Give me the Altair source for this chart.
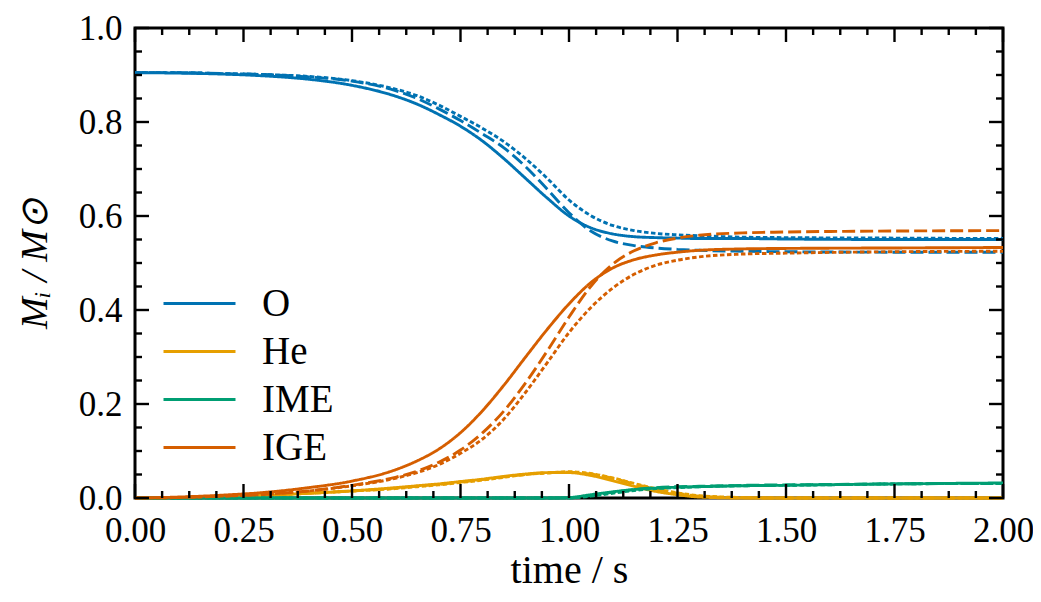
import altair as alt
import pandas as pd

T = [0.0, 0.1, 0.2, 0.3, 0.4, 0.5, 0.6, 0.65, 0.7, 0.75, 0.8, 0.85, 0.9, 0.95,
     1.0, 1.05, 1.1, 1.15, 1.2, 1.25, 1.3, 1.4, 1.5, 1.75, 2.0]

O_solid = [0.905, 0.904, 0.902, 0.898, 0.891, 0.878, 0.855, 0.838, 0.816, 0.791, 0.760, 0.722, 0.680, 0.638,
           0.600, 0.575, 0.562, 0.556, 0.554, 0.553, 0.552, 0.552, 0.551, 0.550, 0.550]
O_dashed = [0.905, 0.905, 0.903, 0.901, 0.896, 0.887, 0.867, 0.850, 0.828, 0.803, 0.775, 0.745, 0.705, 0.657,
            0.607, 0.568, 0.547, 0.537, 0.532, 0.529, 0.527, 0.525, 0.524, 0.523, 0.523]
O_dotted = [0.905, 0.905, 0.903, 0.901, 0.897, 0.888, 0.870, 0.856, 0.836, 0.812, 0.787, 0.758, 0.722, 0.680,
            0.634, 0.601, 0.580, 0.569, 0.563, 0.560, 0.558, 0.555, 0.554, 0.553, 0.552]

He_solid = [0.0, 0.001, 0.003, 0.006, 0.010, 0.015, 0.022, 0.026, 0.030, 0.035, 0.040, 0.046, 0.051, 0.054,
            0.054, 0.048, 0.037, 0.025, 0.014, 0.007, 0.002, 0.0, 0.0, 0.0, 0.0]
He_dashed = [0.0, 0.001, 0.003, 0.006, 0.010, 0.015, 0.021, 0.025, 0.029, 0.034, 0.039, 0.045, 0.050, 0.054,
             0.055, 0.051, 0.042, 0.030, 0.019, 0.010, 0.004, 0.0005, 0.0, 0.0, 0.0]
He_dotted = [0.0, 0.001, 0.003, 0.006, 0.010, 0.015, 0.020, 0.024, 0.028, 0.033, 0.038, 0.044, 0.050, 0.053,
             0.056, 0.052, 0.043, 0.031, 0.020, 0.011, 0.005, 0.001, 0.0, 0.0, 0.0]

IME_solid = [0.0, 0.0, 0.0, 0.0, 0.0, 0.0, 0.0, 0.0, 0.0, 0.0, 0.0, 0.0, 0.0, 0.0,
             0.001, 0.007, 0.013, 0.018, 0.021, 0.023, 0.024, 0.026, 0.027, 0.030, 0.032]
IME_dashed = [0.0, 0.0, 0.0, 0.0, 0.0, 0.0, 0.0, 0.0, 0.0, 0.0, 0.0, 0.0, 0.0, 0.0,
              0.0, 0.005, 0.012, 0.018, 0.022, 0.024, 0.025, 0.027, 0.028, 0.030, 0.031]
IME_dotted = [0.0, 0.0, 0.0, 0.0, 0.0, 0.0, 0.0, 0.0, 0.0, 0.0, 0.0, 0.0, 0.0, 0.0,
              0.0, 0.004, 0.010, 0.016, 0.020, 0.022, 0.024, 0.026, 0.027, 0.030, 0.031]

IGE_solid = [0.0, 0.002, 0.006, 0.012, 0.022, 0.036, 0.060, 0.079, 0.104, 0.139, 0.185, 0.240, 0.300, 0.359,
             0.413, 0.458, 0.489, 0.507, 0.517, 0.523, 0.527, 0.530, 0.531, 0.532, 0.533]
IGE_dashed = [0.0, 0.001, 0.004, 0.008, 0.015, 0.027, 0.044, 0.057, 0.076, 0.102, 0.138, 0.185, 0.245, 0.313,
              0.385, 0.450, 0.497, 0.526, 0.543, 0.553, 0.559, 0.564, 0.566, 0.568, 0.569]
IGE_dotted = [0.0, 0.001, 0.004, 0.008, 0.015, 0.026, 0.042, 0.054, 0.071, 0.095, 0.125, 0.168, 0.225, 0.288,
              0.352, 0.405, 0.446, 0.476, 0.495, 0.506, 0.513, 0.519, 0.521, 0.524, 0.525]

species = ["O", "He", "IME", "IGE"]
colors = ["#0072B2", "#E69F00", "#009E73", "#D55E00"]
runs = ["solid", "dashed", "dotted"]

series = {
    ("O", "solid"): O_solid, ("O", "dashed"): O_dashed, ("O", "dotted"): O_dotted,
    ("He", "solid"): He_solid, ("He", "dashed"): He_dashed, ("He", "dotted"): He_dotted,
    ("IME", "solid"): IME_solid, ("IME", "dashed"): IME_dashed, ("IME", "dotted"): IME_dotted,
    ("IGE", "solid"): IGE_solid, ("IGE", "dashed"): IGE_dashed, ("IGE", "dotted"): IGE_dotted,
}

x_major = [0.0, 0.25, 0.5, 0.75, 1.0, 1.25, 1.5, 1.75, 2.0]
x_minor = [0.0625, 0.125, 0.1875, 0.3125, 0.375, 0.4375, 0.5625, 0.625, 0.6875,
           0.8125, 0.875, 0.9375, 1.0625, 1.125, 1.1875, 1.3125, 1.375, 1.4375,
           1.5625, 1.625, 1.6875, 1.8125, 1.875, 1.9375]
y_major = [0.0, 0.2, 0.4, 0.6, 0.8, 1.0]
y_minor = [0.05, 0.1, 0.15, 0.25, 0.3, 0.35, 0.45, 0.5, 0.55, 0.65, 0.7, 0.75, 0.85, 0.9, 0.95]

rows = []
for (sp, run), vals in series.items():
    for t, v in zip(T, vals):
        rows.append({"t": t, "m": v, "species": sp, "run": run, "key": sp + "-" + run})
df = pd.DataFrame(rows)

W, H = 868, 470
FONT = "Liberation Serif"
MAJ, MIN = 14, 7

xscale = alt.Scale(domain=[0, 2], nice=False, zero=False)
yscale = alt.Scale(domain=[0, 1], nice=False, zero=False)

lines = alt.Chart(df).mark_line(strokeWidth=2.9, interpolate="monotone").encode(
    x=alt.X("t:Q", scale=xscale,
            axis=alt.Axis(values=x_major, format=".2f", ticks=False, domain=False, grid=False,
                          labelFlush=False, labelOverlap=False,
                          labelFont=FONT, labelFontSize=35, labelPadding=15, labelColor="black",
                          title="time / s", titleFont=FONT, titleFontSize=40,
                          titleFontWeight="normal", titlePadding=2, titleColor="black")),
    y=alt.Y("m:Q", scale=yscale,
            axis=alt.Axis(values=y_major, format=".1f", ticks=False, domain=False, grid=False,
                          labelFlush=False, labelOverlap=False,
                          labelFont=FONT, labelFontSize=35, labelPadding=13, labelColor="black",
                          title="Mᵢ / M⊙", titleFont=FONT, titleFontSize=38, titleFontStyle="italic",
                          titleFontWeight="normal", titlePadding=24, titleColor="black")),
    color=alt.Color("species:N", scale=alt.Scale(domain=species, range=colors),
                    legend=alt.Legend(title=None, orient="none", legendX=45, legendY=256,
                                      symbolType="M-3,0H3", symbolSize=576, symbolStrokeWidth=3,
                                      symbolDash=[1, 0],
                                      labelFont=FONT, labelFontSize=39, labelColor="black",
                                      labelOffset=43, rowPadding=8, padding=0)),
    strokeDash=alt.StrokeDash("run:N", scale=alt.Scale(domain=runs, range=[[1, 0], [13, 5], [4.5, 2.5]]),
                              legend=None),
    detail="key:N",
)

xmaj = pd.DataFrame({"v": x_major})
xmin = pd.DataFrame({"v": x_minor})
ymaj = pd.DataFrame({"v": y_major})
ymin = pd.DataFrame({"v": y_minor})

def xticks(d, L):
    b = alt.Chart(d).mark_rule(color="black", strokeWidth=2.4).encode(
        x=alt.X("v:Q", scale=xscale), y=alt.value(H), y2=alt.value(H - L))
    t = alt.Chart(d).mark_rule(color="black", strokeWidth=2.4).encode(
        x=alt.X("v:Q", scale=xscale), y=alt.value(0), y2=alt.value(L))
    return [b, t]

def yticks(d, L):
    l = alt.Chart(d).mark_rule(color="black", strokeWidth=2.4).encode(
        y=alt.Y("v:Q", scale=yscale), x=alt.value(0), x2=alt.value(L))
    r = alt.Chart(d).mark_rule(color="black", strokeWidth=2.4).encode(
        y=alt.Y("v:Q", scale=yscale), x=alt.value(W), x2=alt.value(W - L))
    return [l, r]

layers = [lines] + xticks(xmaj, MAJ) + xticks(xmin, MIN) + yticks(ymaj, MAJ) + yticks(ymin, MIN)

chart = alt.layer(*layers).properties(
    width=W, height=H,
    autosize=alt.AutoSizeParams(type="none"),
    padding={"left": 127, "top": 20, "right": 30, "bottom": 100},
    background="white",
).configure_view(stroke="black", strokeWidth=3)

chart.save("out.html", embed_options={"renderer": "svg", "actions": False})
